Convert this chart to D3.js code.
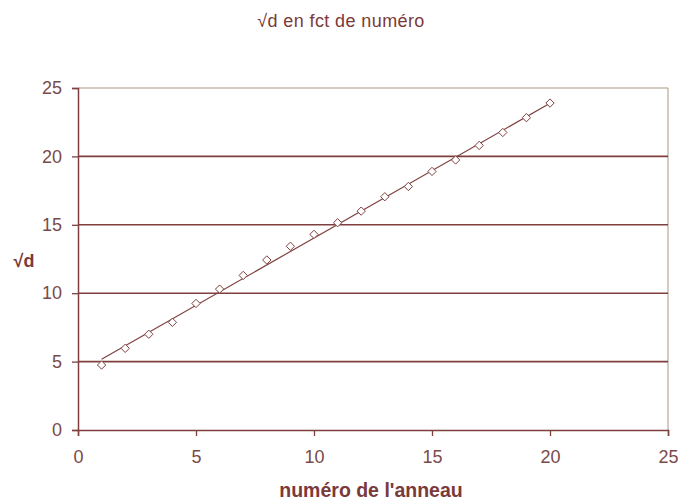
<!DOCTYPE html>
<html><head><meta charset="utf-8">
<script src="https://cdn.jsdelivr.net/npm/d3@7"></script>
<style>body{margin:0;background:#fff}svg{display:block}text{font-family:"Liberation Sans",Arial,sans-serif}</style>
</head><body><svg id="c" width="678" height="500"></svg>
<script>
const numero = [1,2,3,4,5,6,7,8,9,10,11,12,13,14,15,16,17,18,19,20];
const racineD = [4.75,5.97,7.0,7.87,9.25,10.3,11.3,12.43,13.43,14.3,15.15,16.0,17.05,17.8,18.9,19.74,20.8,21.75,22.83,23.9];
const xTicks = [0,5,10,15,20,25];
const yTicks = [0,5,10,15,20,25];
const title = "√d en fct de numéro";
const xLabel = "numéro de l'anneau";
const yLabel = "√d";

const svg = d3.select("#c");
const m = {l:78, r:668, t:88, b:430};
const x = d3.scaleLinear().domain([0,25]).range([m.l,m.r]);
const y = d3.scaleLinear().domain([0,25]).range([m.b,m.t]);
const dark = "#7f3f3f";

// frame top/right
svg.append("line").attr("x1",m.l).attr("x2",m.r).attr("y1",m.t).attr("y2",m.t).attr("stroke","#c4b8ac").attr("stroke-width",1.5);
svg.append("line").attr("x1",m.r).attr("x2",m.r).attr("y1",m.t).attr("y2",m.b).attr("stroke","#c4b8ac").attr("stroke-width",1.5);

// gridlines
svg.append("g").selectAll("line").data(yTicks.filter(v=>v>0&&v<25)).join("line")
  .attr("x1",m.l).attr("x2",m.r).attr("y1",d=>y(d)).attr("y2",d=>y(d))
  .attr("stroke",dark).attr("stroke-width",1.6);

// axes
const ya = svg.append("g").attr("transform",`translate(${m.l},0)`)
  .call(d3.axisLeft(y).tickValues(yTicks).tickSize(6).tickPadding(10));
const xa = svg.append("g").attr("transform",`translate(0,${m.b})`)
  .call(d3.axisBottom(x).tickValues(xTicks).tickSize(6).tickPadding(14));
[ya,xa].forEach(g=>{
  g.select(".domain").attr("stroke",dark).attr("stroke-width",1.5);
  g.selectAll(".tick line").attr("stroke",dark).attr("stroke-width",1.3);
  g.selectAll("text").attr("fill","#7a4a4a").attr("font-size",18).attr("font-family","'Liberation Sans',Arial,sans-serif");
});

// trendline (least squares)
const mx = d3.mean(numero), my = d3.mean(racineD);
const slope = d3.sum(numero.map((v,i)=>(v-mx)*(racineD[i]-my)))/d3.sum(numero.map(v=>(v-mx)*(v-mx)));
const inter = my - slope*mx;
const x0 = d3.min(numero), x1 = d3.max(numero);
svg.append("line").attr("x1",x(x0)).attr("y1",y(inter+slope*x0)).attr("x2",x(x1)).attr("y2",y(inter+slope*x1))
  .attr("stroke",dark).attr("stroke-width",1.2);

// markers
const diamond = d3.symbol().type(d3.symbolDiamond2).size(44);
svg.append("g").selectAll("path").data(numero).join("path")
  .attr("transform",(d,i)=>`translate(${x(d)},${y(racineD[i])})`)
  .attr("d",diamond).attr("fill","#fff").attr("stroke",dark).attr("stroke-width",1);

// texts
svg.append("text").attr("x",341).attr("y",27).attr("text-anchor","middle").attr("font-size",18).attr("letter-spacing",0.4).attr("fill","#7a3a3a").text(title);
svg.append("text").attr("x",371).attr("y",497).attr("text-anchor","middle").attr("font-size",19.5).attr("font-weight","bold").attr("fill","#7a3a3a").text(xLabel);
svg.append("text").attr("x",24).attr("y",267).attr("text-anchor","middle").attr("font-size",18).attr("font-weight","bold").attr("fill","#7a3a3a").text(yLabel);
</script></body></html>
